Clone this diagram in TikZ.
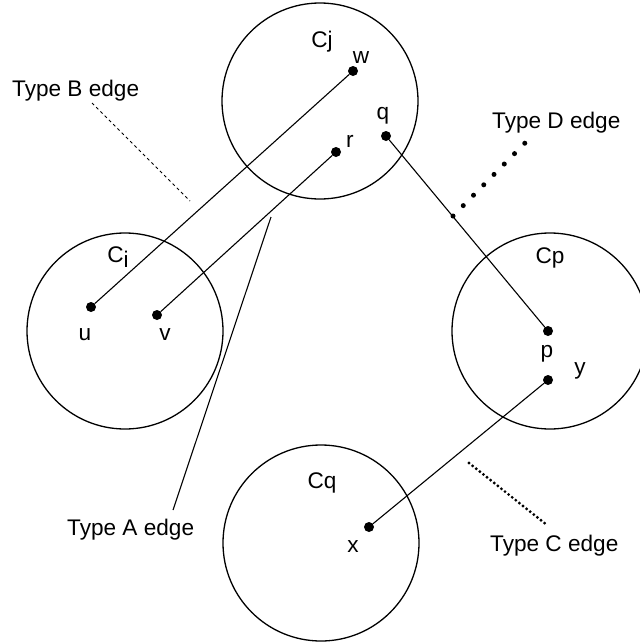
\documentclass[tikz,border=0pt]{standalone}
\usepackage{fontspec}
\setmainfont{Liberation Sans}
\newcommand\lblfont{\fontsize{22.6pt}{27pt}\selectfont}
\begin{document}
\begin{tikzpicture}[x=1pt,y=-1pt,
  lbl/.style={inner sep=0pt, anchor=base, font=\lblfont},
  tlbl/.style={inner sep=0pt, anchor=base west, font=\lblfont},
  dot/.style={circle, fill=black, inner sep=0pt, minimum size=10pt},
  clus/.style={circle, draw, line width=1.3pt, minimum size=196pt, inner sep=0pt},
  edgeline/.style={line width=1.1pt},
  bline/.style={line width=1pt, dash pattern=on 3pt off 3pt},
  dline/.style={line width=5pt, line cap=round, dash pattern=on 0pt off 14.6pt},
  cline/.style={line width=3.2pt, line cap=round, dash pattern=on 0pt off 4.6pt}]
\useasboundingbox (0,0) rectangle (640,643);
\begin{scope}
\clip (0,0) rectangle (640,643);
% clusters
\node[clus] (Cj) at (320,101) {};
\node[clus] (Ci) at (125,331) {};
\node[clus] (Cp) at (550,331) {};
\node[clus] (Cq) at (321,543) {};
\end{scope}
% cluster labels
\node[lbl] (Cjl) at (322,47) {Cj};
\node[lbl] (Cil) at (118,262) {C\raisebox{-5pt}{i}};
\node[lbl] (Cpl) at (550,263) {Cp};
\node[lbl] (Cql) at (322,488) {Cq};
% vertices
\node[dot] (w) at (353,71) {};
\node[dot] (r) at (336,152) {};
\node[dot] (q) at (386,136) {};
\node[dot] (u) at (91,307) {};
\node[dot] (v) at (157,315) {};
\node[dot] (p) at (548,331) {};
\node[dot] (y) at (548,380) {};
\node[dot] (x) at (369,527) {};
% vertex labels
\node[lbl] (wl) at (361,63) {w};
\node[lbl] (rl) at (350,147) {r};
\node[lbl] (ql) at (383,119) {q};
\node[lbl] (ul) at (85,340) {u};
\node[lbl] (vl) at (165,340) {v};
\node[lbl] (pl) at (547,357) {p};
\node[lbl] (yl) at (580,374) {y};
\node[lbl] (xl) at (353,552) {x};
% edges
\draw[edgeline] (u) -- (w);
\draw[edgeline] (v) -- (r);
\draw[edgeline] (q) -- (p);
\draw[edgeline] (x) -- (y);
% leader lines
\coordinate (a1) at (271,217);
\coordinate (a2) at (173,510);
\coordinate (b1) at (92,103);
\coordinate (b2) at (190,201);
\coordinate (d1) at (453,216);
\coordinate (d2) at (525,143);
\coordinate (c1) at (469,463);
\coordinate (c2) at (547,525);
\draw[edgeline] (a1) -- (a2);
\draw[bline] (b1) -- (b2);
\draw[dline] (d1) -- (d2);
\draw[cline] (c1) -- (c2);
% type labels
\node[tlbl] (tA) at (67,535) {Type A edge};
\node[tlbl] (tB) at (12,96) {Type B edge};
\node[tlbl] (tC) at (490,551) {Type C edge};
\node[tlbl] (tD) at (492,128) {Type D edge};
\end{tikzpicture}
\end{document}
